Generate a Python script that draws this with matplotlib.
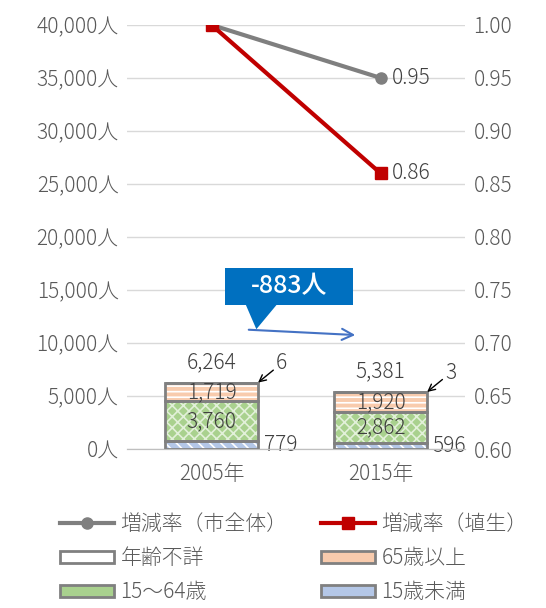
import matplotlib.pyplot as plt
from matplotlib.patches import Patch, Polygon, Rectangle
from matplotlib.lines import Line2D

plt.rcParams['font.family'] = ['Noto Sans CJK JP', 'DejaVu Sans']
plt.rcParams['hatch.linewidth'] = 1.2

years = ['2005年', '2015年']
under15 = [779, 596]
age15_64 = [3760, 2862]
over65 = [1719, 1920]
unknown = [6, 3]
totals = [6264, 5381]
rate_city = [1.00, 0.95]
rate_habu = [1.00, 0.86]
diff_label = '-883人'

TXT = '#595959'
EDGE = '#808080'
layers = [
    ('15歳未満', under15, '#b4c7e7', 'white', '\\\\\\'),
    ('15～64歳', age15_64, '#a9d18e', '#e2f0d9', 'xxx'),
    ('65歳以上', over65, '#f8cbad', 'white', '---'),
    ('年齢不詳', unknown, 'white', 'white', None),
]

fig = plt.figure(figsize=(5.46, 6.08), dpi=100)
ax = fig.add_axes([0.2326, 0.2615, 0.6194, 0.6975])
ax2 = ax.twinx()

x = [0, 1]
width = 0.55
bottom = [0, 0]
for name, vals, fc, hc, hatch in layers:
    ax.bar(x, vals, width, bottom=bottom, color=fc, edgecolor=hc,
           hatch=hatch, linewidth=0, zorder=2)
    ax.bar(x, vals, width, bottom=bottom, fill=False, edgecolor=EDGE,
           linewidth=2, zorder=3)
    bottom = [b + v for b, v in zip(bottom, vals)]

fs = 15
lbl = dict(fontsize=fs, color='#404040', fontweight='light')
for i in x:
    mid = age15_64[i] / 2 + under15[i]
    ax.text(i, mid, f'{age15_64[i]:,}', ha='center', va='center',
            zorder=4, **lbl)
    mid = over65[i] / 2 + under15[i] + age15_64[i]
    ax.text(i, mid, f'{over65[i]:,}', ha='center', va='center',
            zorder=4, **lbl)
    ax.annotate(f'{under15[i]:,}', (i + width / 2, under15[i] / 2),
                xytext=(4, 0), textcoords='offset points', ha='left',
                va='center', **lbl)
    ax.annotate(f'{totals[i]:,}', (i, totals[i]), xytext=(0, 7),
                textcoords='offset points', ha='center', va='bottom',
                **lbl)
    ax.annotate(f'{unknown[i]}', (i + width / 2, totals[i]),
                xytext=(13, 6), textcoords='offset points', ha='left',
                va='bottom',
                arrowprops=dict(arrowstyle='->', color='black', lw=1,
                                shrinkA=0, shrinkB=0, mutation_scale=12),
                **lbl)

# change callout: box, pointer and trend arrow
ax.add_patch(Rectangle((0.08, 13600), 0.755, 3480, fc='#0070c0', ec='none',
                       zorder=5))
ax.add_patch(Polygon([(0.2, 13700), (0.39, 13700), (0.265, 11300)],
                     closed=True, fc='#0070c0', ec='none', zorder=5))
ax.text(0.46, 15340, diff_label, ha='center', va='center', fontsize=18,
        color='white', fontweight='medium', zorder=6)
ax.annotate('', xy=(0.85, 10750), xytext=(0.22, 11250),
            arrowprops=dict(arrowstyle='->', color='#4472c4', lw=1.5,
                            mutation_scale=20, shrinkA=0, shrinkB=0))

ax.set_xlim(-0.5, 1.5)
ax.set_ylim(0, 40000)
ax.set_yticks(range(0, 40001, 5000))
ax.set_yticklabels([f'{v:,}人' for v in range(0, 40001, 5000)])
ax.set_xticks(x)
ax.set_xticklabels(years)
ax.grid(axis='y', color='#d9d9d9', lw=1, zorder=0)
ax.set_axisbelow(True)

ax2.plot(x, rate_city, color='#7f7f7f', lw=3, marker='o', ms=8, zorder=5)
ax2.plot(x, rate_habu, color='#c00000', lw=3, marker='s', ms=9, zorder=5)
ax2.annotate(f'{rate_city[1]:.2f}', (1, rate_city[1]), xytext=(8, 0),
             textcoords='offset points', va='center', **lbl)
ax2.annotate(f'{rate_habu[1]:.2f}', (1, rate_habu[1]), xytext=(8, 0),
             textcoords='offset points', va='center', **lbl)
ax2.set_ylim(0.6, 1.0)
ax2.set_yticks([0.6 + 0.05 * i for i in range(9)])
ax2.set_yticklabels([f'{0.6 + 0.05 * i:.2f}' for i in range(9)])

for a in (ax, ax2):
    for s in ('top', 'left', 'right'):
        a.spines[s].set_visible(False)
    a.spines['bottom'].set_color('#bfbfbf')
    a.tick_params(length=0, labelsize=fs, colors=TXT, pad=6)
    for t in a.get_xticklabels() + a.get_yticklabels():
        t.set_fontweight('light')
ax.tick_params(axis='x', pad=10)

# legend fills column-wise, so order the handles to read row by row
handles = [
    Line2D([], [], color='#7f7f7f', lw=3, marker='o', ms=8),
    Patch(fc='white', ec=EDGE, lw=2),
    Patch(fc='#a9d18e', ec=EDGE, lw=2),
    Line2D([], [], color='#c00000', lw=3, marker='s', ms=9),
    Patch(fc='#f8cbad', ec=EDGE, lw=2),
    Patch(fc='#b4c7e7', ec=EDGE, lw=2),
]
labels = ['増減率（市全体）', '年齢不詳', '15～64歳',
          '増減率（埴生）', '65歳以上', '15歳未満']
leg = fig.legend(handles, labels, ncol=2, loc='upper left',
                 bbox_to_anchor=(0.095, 0.17), frameon=False, fontsize=fs,
                 labelcolor=TXT, handlelength=2.6, handleheight=0.5,
                 columnspacing=1.6, labelspacing=0.58, handletextpad=0.3,
                 borderaxespad=0)
for t in leg.get_texts():
    t.set_fontweight('light')

fig.savefig('out.png', dpi=100)
